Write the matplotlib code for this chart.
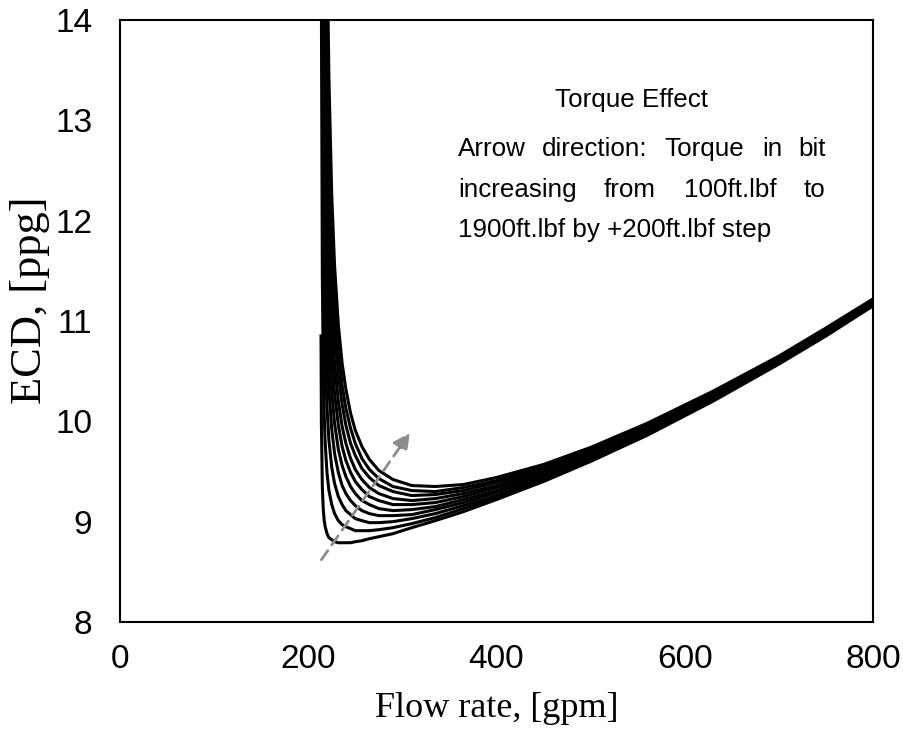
import matplotlib
matplotlib.use("Agg")
import matplotlib.pyplot as plt

# flow rate grid, gpm (first point differs for the 100 ft.lbf curve)
flow = [213.5, 214, 215, 216, 217, 218, 220, 222, 225, 228, 232, 236, 240, 245, 250,
        257, 265, 275, 290, 310, 335, 365, 400, 450, 500, 560, 630, 700, 750, 800]
flow_100 = [213.6] + flow[1:]

# ECD, ppg, one list per torque in bit (ft.lbf)
ecd_100 = [10.85, 9.98, 9.34, 9.12, 9.01, 8.95, 8.88, 8.84, 8.82, 8.80, 8.79, 8.79, 8.79, 8.79, 8.80,
           8.81, 8.83, 8.85, 8.88, 8.94, 9.01, 9.10, 9.22, 9.40, 9.60, 9.86, 10.20, 10.57, 10.85, 11.15]
ecd_300 = [19.68, 14.18, 11.44, 10.52, 10.06, 9.79, 9.48, 9.31, 9.17, 9.08, 9.01, 8.97, 8.95, 8.93, 8.91,
           8.91, 8.91, 8.92, 8.94, 8.98, 9.04, 9.13, 9.24, 9.42, 9.62, 9.87, 10.21, 10.58, 10.86, 11.16]
ecd_500 = [28.68, 18.68, 13.69, 12.02, 11.19, 10.69, 10.13, 9.81, 9.54, 9.38, 9.25, 9.17, 9.11, 9.07, 9.03,
           9.01, 8.99, 8.99, 9.00, 9.03, 9.08, 9.16, 9.26, 9.44, 9.63, 9.89, 10.22, 10.59, 10.87, 11.17]
ecd_700 = [37.68, 23.18, 15.94, 13.52, 12.31, 11.59, 10.77, 10.31, 9.92, 9.68, 9.49, 9.36, 9.28, 9.21, 9.16,
           9.11, 9.08, 9.06, 9.06, 9.07, 9.12, 9.19, 9.29, 9.46, 9.65, 9.90, 10.23, 10.60, 10.88, 11.17]
ecd_900 = [46.68, 27.68, 18.19, 15.02, 13.44, 12.49, 11.41, 10.81, 10.29, 9.98, 9.72, 9.56, 9.45, 9.35, 9.28,
           9.21, 9.17, 9.13, 9.11, 9.12, 9.15, 9.22, 9.31, 9.47, 9.66, 9.91, 10.24, 10.61, 10.88, 11.18]
ecd_1100 = [55.68, 32.18, 20.44, 16.52, 14.56, 13.39, 12.05, 11.31, 10.67, 10.28, 9.96, 9.75, 9.61, 9.49, 9.40,
            9.32, 9.25, 9.21, 9.17, 9.17, 9.19, 9.25, 9.34, 9.49, 9.68, 9.93, 10.25, 10.62, 10.89, 11.19]
ecd_1300 = [64.68, 36.68, 22.69, 18.02, 15.69, 14.29, 12.70, 11.81, 11.04, 10.58, 10.20, 9.95, 9.78, 9.63, 9.52,
            9.42, 9.34, 9.28, 9.23, 9.21, 9.23, 9.28, 9.36, 9.51, 9.69, 9.94, 10.26, 10.62, 10.90, 11.20]
ecd_1500 = [74.68, 41.68, 25.19, 19.69, 16.94, 15.29, 13.41, 12.37, 11.46, 10.91, 10.46, 10.17, 9.96, 9.78, 9.66,
            9.53, 9.44, 9.36, 9.30, 9.26, 9.27, 9.31, 9.39, 9.53, 9.71, 9.95, 10.28, 10.63, 10.91, 11.20]
ecd_1700 = [83.68, 46.18, 27.44, 21.19, 18.06, 16.19, 14.05, 12.87, 11.83, 11.21, 10.70, 10.36, 10.13, 9.93, 9.78,
            9.63, 9.52, 9.43, 9.35, 9.31, 9.30, 9.34, 9.41, 9.55, 9.73, 9.97, 10.29, 10.64, 10.92, 11.21]
ecd_1900 = [93.68, 51.18, 29.94, 22.85, 19.31, 17.19, 14.77, 13.42, 12.25, 11.55, 10.96, 10.58, 10.32, 10.08, 9.91,
            9.75, 9.62, 9.51, 9.42, 9.36, 9.35, 9.37, 9.44, 9.57, 9.74, 9.98, 10.30, 10.65, 10.93, 11.22]

xticks = [0, 200, 400, 600, 800]
yticks = [8, 9, 10, 11, 12, 13, 14]

fig = plt.figure(figsize=(9.04, 7.29), dpi=100)
ax = fig.add_axes([0.1327, 0.1468, 0.833, 0.8258])

ax.plot(flow_100, ecd_100, color="black", lw=2.2)
for ecd in [ecd_300, ecd_500, ecd_700, ecd_900, ecd_1100, ecd_1300, ecd_1500, ecd_1700, ecd_1900]:
    ax.plot(flow, ecd, color="black", lw=2.2)

# arrow showing increasing torque
ax.annotate("", xy=(308, 9.885), xytext=(214, 8.62),
            arrowprops=dict(arrowstyle="-|>,head_length=1.0,head_width=0.5", color="#8c8c8c",
                            lw=2, linestyle=(0, (4, 2.5)), shrinkA=0, shrinkB=0))

ax.set_xlim(0, 800)
ax.set_ylim(8, 14)
ax.set_xticks(xticks)
ax.set_yticks(yticks)
ax.tick_params(length=0, labelsize=24)
ax.tick_params(axis="x", pad=16)
ax.tick_params(axis="y", pad=20)
for lab in ax.get_xticklabels() + ax.get_yticklabels():
    lab.set_family("Liberation Sans")
for s in ax.spines.values():
    s.set_linewidth(1.5)

ax.set_xlabel("Flow rate, [gpm]", family="Liberation Serif", fontsize=26)
ax.set_ylabel("ECD, [ppg]", family="Liberation Serif", fontsize=32)
ax.xaxis.set_label_coords(0.5, -0.117)
ax.yaxis.set_label_coords(-0.093, 0.535)

# annotation text (justified lines placed word by word)
W, H = 904.0, 729.0
tk = dict(family="Liberation Sans", fontsize=18.7, va="baseline", ha="left")
fig.text(632 / W, 1 - 107 / H, "Torque Effect", family="Liberation Sans", fontsize=18.7,
         va="baseline", ha="center")
for x, w in [(458, "Arrow"), (542, "direction:"), (664, "Torque"), (762, "in"), (798, "bit")]:
    fig.text(x / W, 1 - 156 / H, w, **tk)
for x, w in [(458, "increasing"), (604, "from"), (684, "100ft.lbf"), (804, "to")]:
    fig.text(x / W, 1 - 197 / H, w, **tk)
fig.text(458 / W, 1 - 237 / H, "1900ft.lbf by +200ft.lbf step", **tk)

fig.savefig("out.png", dpi=100)
